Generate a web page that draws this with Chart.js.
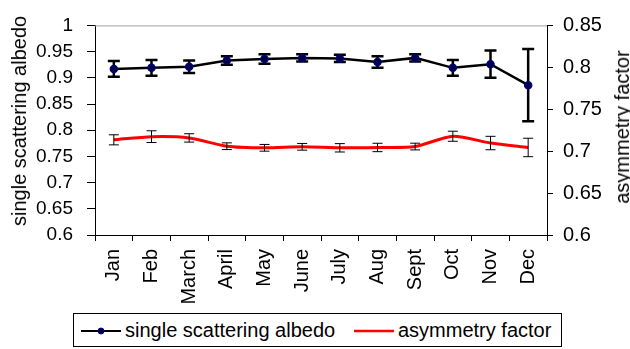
<!DOCTYPE html>
<html>
<head>
<meta charset="utf-8">
<script src="https://cdn.jsdelivr.net/npm/chart.js@4.4.1/dist/chart.umd.min.js"></script>
<style>
  html, body { margin: 0; padding: 0; background: #fff; }
  #wrap { position: relative; width: 630px; height: 349px; overflow: hidden; font-family: "Liberation Sans", Arial, sans-serif; }
  #c { position: absolute; left: 0; top: 0; }
  .ytitle { position: absolute; font-size: 20px; color: #000; white-space: nowrap; transform: translate(-50%, -50%) rotate(-90deg); line-height: 1; }
  #legend { position: absolute; left: 73px; top: 313px; width: 487px; height: 32px; border: 1px solid #000; background: #fff; font-size: 20px; }
  .litem { position: absolute; top: 5px; white-space: nowrap; line-height: 22px; }
  .sw { position: absolute; }
</style>
</head>
<body>
<div id="wrap">
  <canvas id="c" width="630" height="349"></canvas>
  <div class="ytitle" style="left:19px; top:121px;">single scattering albedo</div>
  <div class="ytitle" style="left:622px; top:127px;">asymmetry factor</div>
  <div id="legend">
    <svg class="sw" style="left:7px; top:12px;" width="40" height="10">
      <line x1="0" y1="5" x2="40" y2="5" stroke="#000" stroke-width="2"/>
      <circle cx="20" cy="5" r="3" fill="#000040" stroke="#000080" stroke-width="1"/>
    </svg>
    <div class="litem" style="left:51px;">single scattering albedo</div>
    <svg class="sw" style="left:280px; top:12px;" width="40" height="10">
      <line x1="0" y1="5" x2="40" y2="5" stroke="#ff0000" stroke-width="2.5"/>
    </svg>
    <div class="litem" style="left:324px;">asymmetry factor</div>
  </div>
</div>
<script>
const months = ["Jan", "Feb", "March", "April", "May", "June", "July", "Aug", "Sept", "Oct", "Nov", "Dec"];
const albedo = [0.917, 0.919, 0.921, 0.933, 0.936, 0.938, 0.937, 0.930, 0.938, 0.919, 0.926, 0.886];
const albedoErr = [0.015, 0.015, 0.012, 0.008, 0.009, 0.007, 0.007, 0.011, 0.007, 0.015, 0.026, 0.069];
const asym = [0.7135, 0.7173, 0.7158, 0.7059, 0.7040, 0.7052, 0.7040, 0.7044, 0.7055, 0.7178, 0.7097, 0.7044];
const asymErr = [0.006, 0.007, 0.005, 0.004, 0.004, 0.004, 0.005, 0.005, 0.004, 0.006, 0.008, 0.011];
const leftTicks = [0.6, 0.65, 0.7, 0.75, 0.8, 0.85, 0.9, 0.95, 1];
const rightTicks = [0.6, 0.65, 0.7, 0.75, 0.8, 0.85];

const FONT = "'Liberation Sans', Arial, sans-serif";
const fmt = v => String(parseFloat(Number(v).toFixed(2)));

const errorBars = {
  id: 'errorBars',
  drawBars(chart, idx) {
    const ds = chart.data.datasets[idx];
    const meta = chart.getDatasetMeta(idx);
    const scale = chart.scales[ds.yAxisID];
    const ctx = chart.ctx;
    ctx.save();
    ctx.strokeStyle = '#000';
    ctx.lineWidth = ds.errWidth;
    meta.data.forEach((pt, i) => {
      const v = ds.data[i], e = ds.errors[i];
      const yt = scale.getPixelForValue(v + e);
      const yb = scale.getPixelForValue(v - e);
      const x = pt.x, hw = ds.capHalf;
      ctx.beginPath();
      ctx.moveTo(x, yt); ctx.lineTo(x, yb);
      ctx.moveTo(x - hw, yt); ctx.lineTo(x + hw, yt);
      ctx.moveTo(x - hw, yb); ctx.lineTo(x + hw, yb);
      ctx.stroke();
    });
    ctx.restore();
  },
  beforeDatasetDraw(chart, args) {
    if (args.index === 0) this.drawBars(chart, 0);
  },
  afterDatasetDraw(chart, args) {
    if (args.index === 1) this.drawBars(chart, 1);
  }
};

const plotBorder = {
  id: 'plotBorder',
  beforeDatasetsDraw(chart) {
    const a = chart.chartArea, ctx = chart.ctx;
    ctx.save();
    ctx.strokeStyle = '#a0a0a0';
    ctx.lineWidth = 1;
    ctx.beginPath();
    ctx.moveTo(a.left, a.top + 0.5);
    ctx.lineTo(a.right, a.top + 0.5);
    ctx.stroke();
    ctx.restore();
  }
};

new Chart(document.getElementById('c'), {
  type: 'line',
  data: {
    labels: months,
    datasets: [
      {
        label: 'single scattering albedo',
        data: albedo,
        errors: albedoErr,
        errWidth: 2.5,
        capHalf: 6,
        yAxisID: 'y',
        borderColor: '#000',
        borderWidth: 2.5,
        pointRadius: 3.5,
        pointBackgroundColor: '#000040',
        pointBorderColor: '#000080',
        pointBorderWidth: 1.5,
        tension: 0,
        order: 0
      },
      {
        label: 'asymmetry factor',
        data: asym,
        errors: asymErr,
        errWidth: 1,
        capHalf: 5,
        yAxisID: 'y1',
        borderColor: '#ff0000',
        borderWidth: 3,
        pointRadius: 0,
        tension: 0.25,
        order: 1
      }
    ]
  },
  options: {
    responsive: false,
    animation: false,
    layout: { padding: { top: 17, left: 0, right: 0, bottom: 0 } },
    plugins: { legend: { display: false }, tooltip: { enabled: false } },
    scales: {
      x: {
        offset: true,
        grid: { offset: true, drawOnChartArea: false, tickLength: 6, color: '#000', tickColor: '#000' },
        border: { color: '#000', width: 1 },
        ticks: { color: '#000', font: { family: FONT, size: 20 }, maxRotation: 90, minRotation: 90, padding: 8, autoSkip: false },
        afterFit: s => { s.height = 114; }
      },
      y: {
        position: 'left',
        min: 0.6, max: 1,
        afterBuildTicks: s => { s.ticks = leftTicks.map(v => ({ value: v })); },
        grid: { drawOnChartArea: false, tickLength: 8, color: '#000', tickColor: '#000' },
        border: { color: '#000', width: 1 },
        ticks: { color: '#000', font: { family: FONT, size: 19 }, padding: 14, callback: v => fmt(v) },
        afterFit: s => { s.width = 95; }
      },
      y1: {
        position: 'right',
        min: 0.6, max: 0.85,
        afterBuildTicks: s => { s.ticks = rightTicks.map(v => ({ value: v })); },
        grid: { drawOnChartArea: false, tickLength: 6, color: '#000', tickColor: '#000' },
        border: { color: '#000', width: 1 },
        ticks: { color: '#000', font: { family: FONT, size: 20 }, padding: 10, callback: v => fmt(v) },
        afterFit: s => { s.width = 83; }
      }
    }
  },
  plugins: [errorBars, plotBorder]
});
</script>
</body>
</html>
